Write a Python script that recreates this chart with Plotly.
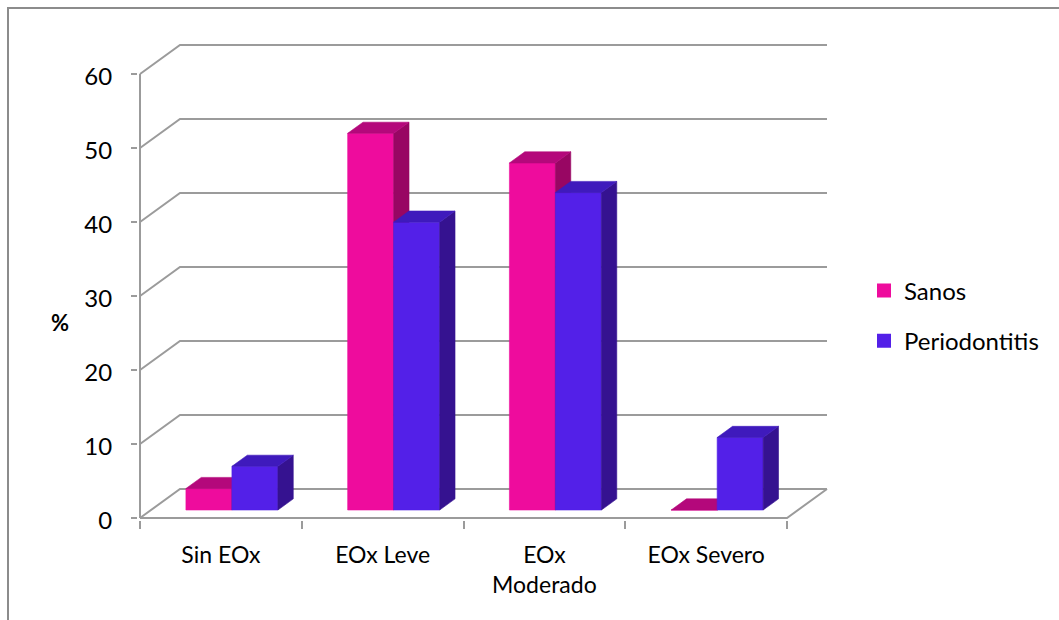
import plotly.graph_objects as go

# ---------------- data ----------------
categories = ["Sin EOx", "EOx Leve", "EOx<br>Moderado", "EOx Severo"]
series_names = ["Sanos", "Periodontitis"]
sanos = [2.9, 50.9, 46.9, 0.0]
periodontitis = [5.9, 38.9, 42.9, 9.8]
y_ticks = [0, 10, 20, 30, 40, 50, 60]
y_tick_labels = ["0", "10", "20", "30", "40", "50", "60"]

# ---------------- styles ----------------
face_colors = {
    "Sanos": {"front": "#EE0C9D", "top": "#B4087B", "side": "#980663"},
    "Periodontitis": {"front": "#5320E8", "top": "#3F1ABC", "side": "#351290"},
}
GRID = "#9b9b9b"
FONT = "Lato"

W, H = 1059, 620
ORIGIN_PX = (140, 518)          # front-plane origin in pixels
PX_PER_CAT = 161.75
PX_PER_UNIT = 7.4
DEPTH_PX = (40, 29)             # oblique depth offset of the back wall
PLOT_L, PLOT_B = 138, 520       # plot area left / bottom edge in pixels

DX = DEPTH_PX[0] / PX_PER_CAT
DY = DEPTH_PX[1] / PX_PER_UNIT
BAR_W = 46 / PX_PER_CAT
F0, F1 = 0.276, 0.66            # bar depth span (fraction of depth)

x_range = [(PLOT_L - ORIGIN_PX[0]) / PX_PER_CAT, (W - ORIGIN_PX[0]) / PX_PER_CAT]
y_range = [(ORIGIN_PX[1] - PLOT_B) / PX_PER_UNIT, ORIGIN_PX[1] / PX_PER_UNIT]
plot_w = W - PLOT_L
plot_h = PLOT_B

n = len(categories)
fig = go.Figure()

# ---------- walls & floor ----------
gx, gy = [], []
for t in y_ticks:
    gx += [0, DX, n + DX, None]
    gy += [t, t + DY, t + DY, None]
# floor front + right edge
gx += [0, n, n + DX, None]
gy += [0, 0, DY, None]
# front vertical axis line
gx += [0, 0, None]
gy += [0, y_ticks[-1], None]
fig.add_trace(go.Scatter(x=gx, y=gy, mode="lines", line=dict(color=GRID, width=2),
                         hoverinfo="skip", showlegend=False))

# ---------- 3-D bars ----------
def pt(x, y, f):
    return x + f * DX, y + f * DY

series = [("Sanos", sanos), ("Periodontitis", periodontitis)]
for i in range(n):
    for s, (name, vals) in enumerate(series):
        v = vals[i]
        xl = i + 0.5 - BAR_W + s * BAR_W
        xr = xl + BAR_W
        c = face_colors[name]
        faces = []
        faces.append(([pt(xl, 0, F0), pt(xr, 0, F0), pt(xr, v, F0), pt(xl, v, F0)], c["front"]))
        faces.append(([pt(xr, 0, F0), pt(xr, 0, F1), pt(xr, v, F1), pt(xr, v, F0)], c["side"]))
        faces.append(([pt(xl, v, F0), pt(xr, v, F0), pt(xr, v, F1), pt(xl, v, F1)], c["top"]))
        for poly, col in faces:
            xs = [p[0] for p in poly] + [poly[0][0]]
            ys = [p[1] for p in poly] + [poly[0][1]]
            fig.add_trace(go.Scatter(x=xs, y=ys, mode="lines", fill="toself",
                                     fillcolor=col, line=dict(color=col, width=0.6),
                                     hoverinfo="skip", showlegend=False))

# ---------- legend entries ----------
for k, name in enumerate(series_names):
    fig.add_trace(go.Scatter(x=[None], y=[None], mode="markers", name=name,
                             legendgroup=name,
                             marker=dict(symbol="square", size=14,
                                         color=face_colors[name]["front"])))

fig.update_layout(
    width=W, height=H,
    margin=dict(l=PLOT_L, r=0, t=0, b=H - PLOT_B, pad=0),
    paper_bgcolor="white", plot_bgcolor="white",
    font=dict(family=FONT, size=23, color="black"),
    showlegend=True,
    legend=dict(x=(864 - PLOT_L) / plot_w, y=(PLOT_B - 316) / plot_h,
                xanchor="left", yanchor="middle", traceorder="grouped",
                tracegroupgap=16, font=dict(family=FONT, size=24),
                bgcolor="rgba(0,0,0,0)"),
    xaxis=dict(range=x_range, showgrid=False, zeroline=False, showline=False,
               tickmode="array", tickvals=[i + 0.5 for i in range(n)],
               ticktext=categories, ticks="", automargin=False,
               ticklabelstandoff=19,
               minor=dict(tickmode="array", tickvals=list(range(n + 1)),
                          ticks="outside", ticklen=8, tickwidth=2, tickcolor=GRID,
                          showgrid=False)),
    yaxis=dict(range=y_range, showgrid=False, zeroline=False, showline=False,
               tickmode="array", tickvals=y_ticks, ticktext=y_tick_labels,
               ticks="outside", ticklen=6, tickwidth=2, tickcolor=GRID,
               automargin=False, ticklabelstandoff=14, ticklabelshift=3,
               tickfont=dict(size=24)),
    annotations=[dict(text="<b>%</b>", xref="paper", yref="paper",
                      x=(60 - PLOT_L) / plot_w, y=(PLOT_B - 322) / plot_h,
                      xanchor="center", yanchor="middle",
                      showarrow=False, font=dict(family=FONT, size=22, color="black"))],
    shapes=[dict(type="rect", xref="paper", yref="paper",
                 x0=(8 - PLOT_L) / plot_w, x1=(W + 20 - PLOT_L) / plot_w,
                 y0=(PLOT_B - (H + 20)) / plot_h, y1=(PLOT_B - 8) / plot_h,
                 line=dict(color="#8c8c8c", width=2), layer="below")],
)

fig.write_html("out.html")
